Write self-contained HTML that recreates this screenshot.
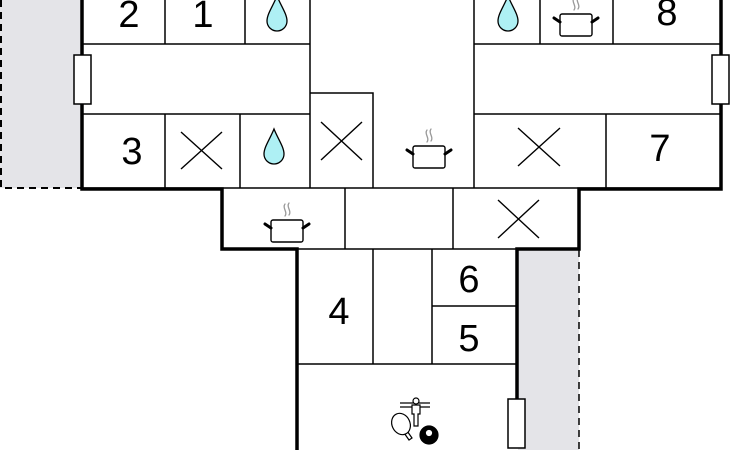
<!DOCTYPE html>
<html><head><meta charset="utf-8"><style>html,body{margin:0;padding:0;background:#fff;width:730px;height:450px;overflow:hidden}</style></head>
<body>
<svg width="730" height="450" viewBox="0 0 730 450" xmlns="http://www.w3.org/2000/svg" font-family="Liberation Sans, sans-serif">
<defs>
<g id="drop"><path d="M0,-18 C4,-8 10,0 10,7 C10,13 5,17 0,17 C-5,17 -10,13 -10,7 C-10,0 -4,-8 0,-18Z" fill="#aef0f4" stroke="#000" stroke-width="1.3"/></g>
<g id="pot" stroke-linecap="round">
<path d="M-2,-28 C-5,-24 1,-20 -2,-16 M2,-29 C-1,-25 5,-21 2,-17" stroke="#999" stroke-width="1.3" fill="none"/>
<rect x="-16" y="-12" width="32" height="22" rx="2" fill="#fff" stroke="#000" stroke-width="1.4"/>
<path d="M-16,-4 L-22,-8 M16,-4 L22,-8" stroke="#000" stroke-width="3"/>
</g>
</defs>
<!-- grey areas -->
<rect x="0" y="0" width="82" height="188" fill="#e4e4e8"/>
<rect x="518" y="249" width="61" height="201" fill="#e4e4e8"/>
<path d="M1,0 V188 H82" stroke="#000" stroke-width="2" stroke-dasharray="7,5" fill="none"/>
<path d="M579,250 V450" stroke="#000" stroke-width="1.5" stroke-dasharray="7,5" fill="none"/>
<!-- white building fill -->
<path d="M82,0 H721 V188 H579 V249 H516 V450 H296 V249 H222 V188 H82Z" fill="#fff"/>
<!-- thin walls -->
<g stroke="#000" stroke-width="1.5" fill="none">
<path d="M82,44 H310 M82,114 H310 M165,0 V44 M245,0 V44 M165,114 V188 M240,114 V188 M310,0 V188"/>
<path d="M310,93 H373 V188"/>
<path d="M474,0 V188 M474,44 H721 M474,114 H721 M540,0 V44 M613,0 V44 M606,114 V188"/>
<path d="M82,188 H721 M345,188 V249 M453,188 V249 M222,249 H579"/>
<path d="M373,249 V364 M432,249 V364 M432,306 H516 M296,364 H516"/>
</g>
<!-- thick walls -->
<g stroke="#000" stroke-width="3.5" fill="none">
<path d="M82,0 V189 H222 V249 H297 V450"/>
<path d="M721,0 V189 H579 V249 H517 V400"/>
</g>
<!-- windows -->
<rect x="74" y="55" width="17" height="49" fill="#fff" stroke="#000" stroke-width="1.5"/>
<rect x="712" y="55" width="17" height="49" fill="#fff" stroke="#000" stroke-width="1.5"/>
<rect x="508" y="399" width="17" height="49" fill="#fff" stroke="#000" stroke-width="1.5"/>
<!-- numbers -->
<g font-size="38" text-anchor="middle" fill="#000">
<text x="129" y="27">2</text><text x="203" y="27">1</text><text x="132" y="164">3</text>
<text x="660" y="161">7</text><text x="667" y="25">8</text>
<text x="339" y="324">4</text><text x="469" y="292">6</text><text x="469" y="351">5</text>
</g>
<!-- drops -->
<use href="#drop" x="277" y="14"/><use href="#drop" x="274" y="147"/><use href="#drop" x="508" y="14"/>
<!-- Xs -->
<g stroke="#000" stroke-width="1.4">
<path d="M181,132 L222,169 M222,132 L181,169"/>
<path d="M321,122 L362,160 M362,122 L321,160"/>
<path d="M518,128 L560,166 M560,128 L518,166"/>
<path d="M498,200 L539,238 M539,200 L498,238"/>
</g>
<!-- pots -->
<use href="#pot" x="429" y="158"/><use href="#pot" x="287" y="232"/><use href="#pot" x="576" y="26"/>
<!-- games -->
<g stroke="#000" stroke-width="1.2" fill="#fff">
<path d="M400,403 H430 M400,407 H430"/>
<circle cx="416" cy="401" r="3"/>
<path d="M412,405 H420 V414 H418 V426 H414 V414 H412Z"/>
<path d="M405,428 L412,438 L409,440 L402,430"/>
<ellipse cx="401" cy="424" rx="9" ry="11" transform="rotate(-25 401 424)"/>
<circle cx="429" cy="435" r="9" fill="#000"/>
<circle cx="429" cy="433" r="3.5" fill="#fff" stroke-width="0.8"/>
</g>
</svg>
</body></html>
